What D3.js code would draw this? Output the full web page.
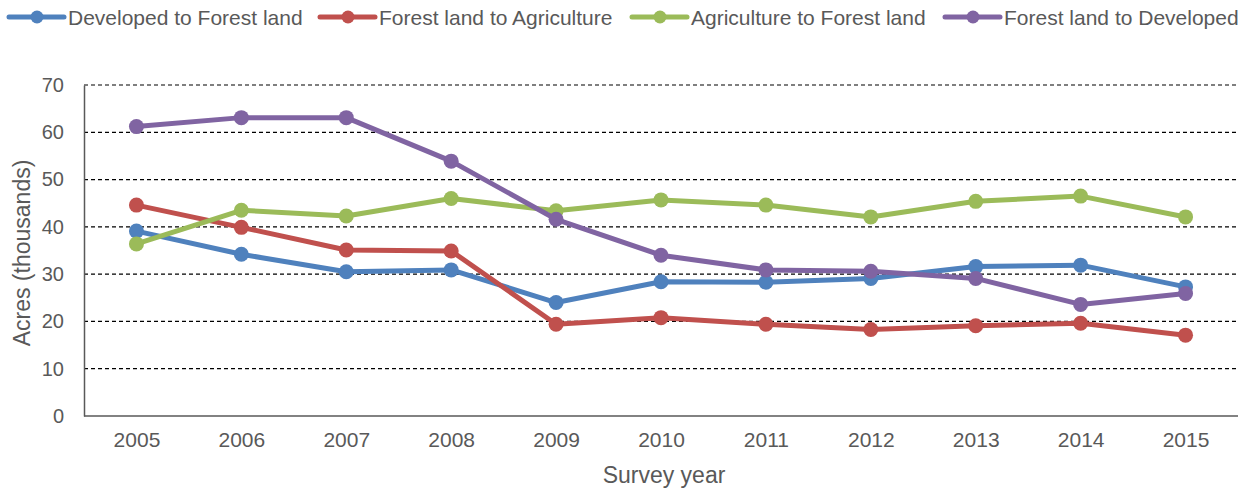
<!DOCTYPE html>
<html>
<head>
<meta charset="utf-8">
<script src="https://cdn.jsdelivr.net/npm/d3@7"></script>
<style>
  html, body { margin: 0; padding: 0; background: #fff; }
  svg { display: block; font-family: "Liberation Sans", Arial, sans-serif; }
</style>
</head>
<body>
<svg id="chart" width="1252" height="488"></svg>
<script>
// Survey years on the x axis
const years = ["2005","2006","2007","2008","2009","2010","2011","2012","2013","2014","2015"];

// Acres (thousands) for each land-use conversion
const developedToForest   = [39.1, 34.2, 30.5, 30.9, 24.0, 28.4, 28.3, 29.1, 31.6, 31.9, 27.3];
const forestToAgriculture = [44.6, 39.9, 35.1, 34.9, 19.4, 20.8, 19.4, 18.3, 19.1, 19.6, 17.1];
const agricultureToForest = [36.4, 43.5, 42.3, 46.0, 43.4, 45.7, 44.6, 42.1, 45.4, 46.5, 42.1];
const forestToDeveloped   = [61.2, 63.1, 63.1, 53.9, 41.6, 34.0, 30.9, 30.6, 29.1, 23.6, 25.9];

const seriesNames  = ["Developed to Forest land", "Forest land to Agriculture", "Agriculture to Forest land", "Forest land to Developed"];
const seriesColors = ["#4F81BD", "#C0504D", "#9BBB59", "#8064A2"];
const yTicks = [0, 10, 20, 30, 40, 50, 60, 70];

const series = [developedToForest, forestToAgriculture, agricultureToForest, forestToDeveloped]
  .map((values, i) => ({ name: seriesNames[i], color: seriesColors[i], values }));

const svg = d3.select("#chart");
const plot = { left: 84, right: 1238, top: 85, bottom: 416 };
const textColor = "#595959";
const fontFamily = "'Liberation Sans', Arial, sans-serif";

const x = d3.scalePoint().domain(years).range([plot.left, plot.right]).padding(0.5);
const y = d3.scaleLinear().domain([0, 70]).range([plot.bottom, plot.top]);

// Dashed horizontal gridlines
svg.append("g")
  .selectAll("line")
  .data(yTicks.filter(d => d > 0))
  .join("line")
  .attr("x1", plot.left).attr("x2", plot.right)
  .attr("y1", d => y(d)).attr("y2", d => y(d))
  .attr("stroke", "#000").attr("stroke-width", 1.2)
  .attr("stroke-dasharray", "4,3");

// Y axis
const yAxis = svg.append("g")
  .attr("transform", `translate(${plot.left},0)`)
  .call(d3.axisLeft(y).tickValues(yTicks).tickSize(0).tickPadding(20));
yAxis.select(".domain").attr("stroke", textColor).attr("stroke-width", 1.5);
yAxis.selectAll("text").attr("fill", textColor).style("font-size", "20px")
  .style("font-family", fontFamily);

// X axis
const xAxis = svg.append("g")
  .attr("transform", `translate(0,${plot.bottom})`)
  .call(d3.axisBottom(x).tickSize(0).tickPadding(16));
xAxis.select(".domain").attr("stroke", textColor).attr("stroke-width", 1.5)
  .attr("d", `M${plot.left},0H${plot.right}`);
xAxis.selectAll("text").attr("fill", textColor).style("font-size", "21px")
  .style("font-family", fontFamily);

// Axis titles
svg.append("text")
  .attr("x", (plot.left + plot.right) / 2 + 3).attr("y", 483)
  .attr("text-anchor", "middle").attr("fill", textColor)
  .style("font-size", "23px").text("Survey year");

svg.append("text")
  .attr("transform", "translate(30,253) rotate(-90)")
  .attr("text-anchor", "middle").attr("fill", textColor)
  .style("font-size", "23px").text("Acres (thousands)");

// Lines and markers
const line = d3.line().x((d, i) => x(years[i])).y(d => y(d));
const groups = svg.append("g").selectAll("g").data(series).join("g");
groups.append("path")
  .attr("d", d => line(d.values))
  .attr("fill", "none").attr("stroke", d => d.color)
  .attr("stroke-width", 5).attr("stroke-linejoin", "round");
groups.selectAll("circle")
  .data(d => d.values.map((v, i) => ({ v, i, color: d.color })))
  .join("circle")
  .attr("cx", d => x(years[d.i])).attr("cy", d => y(d.v))
  .attr("r", 7.5).attr("fill", d => d.color);

// Legend across the top
const legendStarts = [9, 320, 632, 945];
const legend = svg.append("g").selectAll("g").data(series).join("g")
  .attr("transform", (d, i) => `translate(${legendStarts[i]},17)`);
legend.append("line")
  .attr("x1", 0).attr("x2", 55).attr("y1", 0).attr("y2", 0)
  .attr("stroke", d => d.color).attr("stroke-width", 5)
  .attr("stroke-linecap", "round");
legend.append("circle")
  .attr("cx", 28).attr("cy", 0).attr("r", 6.5).attr("fill", d => d.color);
legend.append("text")
  .attr("x", 59).attr("y", 8)
  .attr("fill", textColor).style("font-size", "21px")
  .text(d => d.name);
</script>
</body>
</html>
